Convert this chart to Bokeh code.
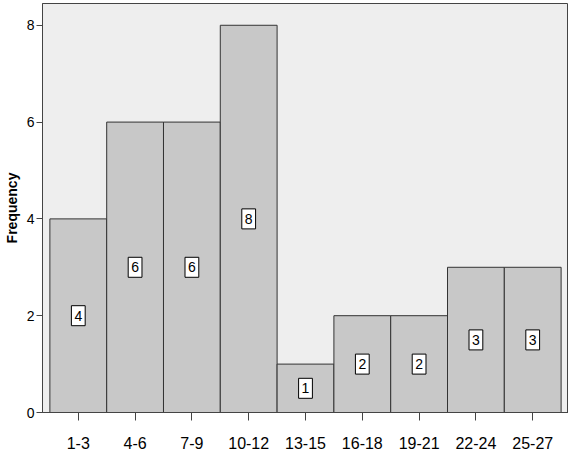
from bokeh.plotting import figure
from bokeh.models import FactorRange, Range1d, FixedTicker, ColumnDataSource
from bokeh.embed import file_html
from bokeh.resources import INLINE
from bokeh.core.properties import value

categories = ["1-3", "4-6", "7-9", "10-12", "13-15", "16-18", "19-21", "22-24", "25-27"]
frequency = [4, 6, 6, 8, 1, 2, 2, 3, 3]
y_ticks = [0, 2, 4, 6, 8]

src = ColumnDataSource(dict(
    cat=categories,
    freq=frequency,
    mid=[f / 2 for f in frequency],
    lab=[str(f) for f in frequency],
))

FONT = "Liberation Sans"

p = figure(
    width=568, height=451,
    x_range=FactorRange(*categories, range_padding=0.13, range_padding_units="absolute"),
    y_range=Range1d(0, 8.45),
    output_backend="svg", toolbar_location=None,
    min_border_left=35, min_border_right=0, min_border_top=3, min_border_bottom=30,
)
p.background_fill_color = "#EEEEEE"
p.border_fill_color = "white"
p.outline_line_color = "#444444"
p.outline_line_width = 1
p.grid.visible = False

p.vbar(x="cat", top="freq", width=1.0, source=src,
       fill_color="#C8C8C8", line_color="#333333", line_width=1)

p.text(x="cat", y="mid", text="lab", source=src,
       text_align="center", text_baseline="middle",
       text_font=value(FONT), text_font_size="14px", text_color="black",
       background_fill_color="white", border_line_color="black", border_line_width=1,
       padding=dict(left=3, right=3, top=5, bottom=5))

# y axis
p.yaxis.ticker = FixedTicker(ticks=y_ticks)
p.yaxis.minor_tick_line_color = None
p.yaxis.major_tick_in = 0
p.yaxis.major_tick_out = 6
p.yaxis.axis_line_color = "#444444"
p.yaxis.major_tick_line_color = "#444444"
p.yaxis.major_label_text_font = FONT
p.yaxis.major_label_text_font_size = "14px"
p.yaxis.major_label_text_color = "black"
p.yaxis.major_label_standoff = 2
p.yaxis.axis_label = "Frequency"
p.yaxis.axis_label_text_font = FONT
p.yaxis.axis_label_text_font_style = "bold"
p.yaxis.axis_label_text_font_size = "14px"
p.yaxis.axis_label_text_color = "black"
p.yaxis.axis_label_standoff = 4

# x axis
p.xaxis.major_tick_in = 0
p.xaxis.major_tick_out = 8
p.xaxis.axis_line_color = "#444444"
p.xaxis.major_tick_line_color = "#444444"
p.xaxis.major_label_text_font = FONT
p.xaxis.major_label_text_font_size = "16px"
p.xaxis.major_label_text_color = "black"
p.xaxis.major_label_standoff = 16
p.xaxis.group_text_font_size = "0px"

open("out.html", "w").write(file_html(p, INLINE))
